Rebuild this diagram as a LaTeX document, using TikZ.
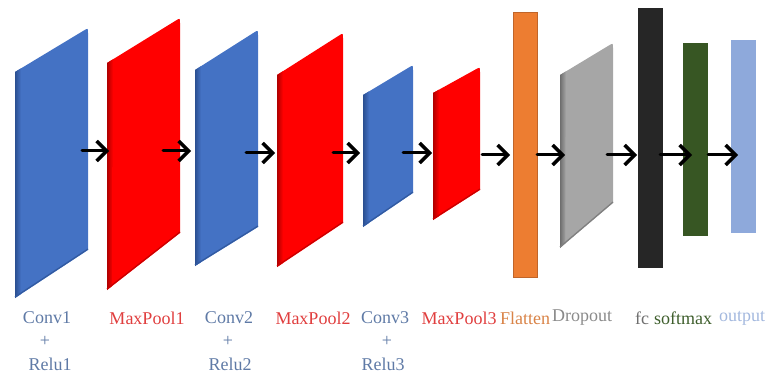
\documentclass[tikz,border=0pt]{standalone}
\usepackage{fontspec}
\setmainfont{Liberation Serif}
\usetikzlibrary{arrows.meta,calc}
\definecolor{convblue}{HTML}{4472C4}
\definecolor{convdark}{HTML}{2B4F91}
\definecolor{poolred}{HTML}{FF0000}
\definecolor{pooldark}{HTML}{B00000}
\definecolor{dropgray}{HTML}{A6A6A6}
\definecolor{dropdark}{HTML}{6E6E6E}
\definecolor{flatorange}{HTML}{ED7D31}
\definecolor{flatborder}{HTML}{C0652A}
\definecolor{fcblack}{HTML}{262626}
\definecolor{smgreen}{HTML}{375623}
\definecolor{outblue}{HTML}{8EA9DB}
\definecolor{convtxt}{HTML}{5F7AA6}
\definecolor{pooltxt}{HTML}{E03E3E}
\definecolor{flattxt}{HTML}{D98347}
\definecolor{droptxt}{HTML}{8A8A8A}
\definecolor{fctxt}{HTML}{6E6E6E}
\definecolor{smtxt}{HTML}{3E5E2C}
\definecolor{outtxt}{HTML}{A3B8DE}
% #1 xl, #2 y top-left, #3 y bottom-left, #4 xr, #5 y top-right, #6 y bottom-right, #7 face colour, #8 side colour
\newcommand\slabshape[8]{%
  \fill[#7] (#1,#2) -- ($(#4,#5)!5pt!(#1,#2)$) .. controls (#4,#5) .. ($(#4,#5)!5pt!(#4,#6)$) -- (#4,#6) -- (#1,#3) -- cycle;
  \shade[left color=#8, right color=#7] (#1,#2) -- ($(#1,#2)!7pt!(#4,#5)$) -- ($(#1,#3)!7pt!(#4,#6)$) -- (#1,#3) -- cycle;
  \draw[#8!70!#7, line width=1.2pt] ($(#1,#3)!1pt!(#1,#2)$) -- ($(#4,#6)!1pt!(#4,#5)$);
}
\begin{document}
\begin{tikzpicture}[x=1pt,y=-1pt,
  flow/.style={line width=3pt, line cap=round, -{Straight Barb[length=10pt,width=20pt,line width=3.4pt]}},
  lbl/.style={font=\fontsize{18}{21}\selectfont, inner sep=0pt, anchor=center}]
\useasboundingbox (0,0) rectangle (771,377);
% slabs
\slabshape{15}{72}{298}{88}{28}{250}{convblue}{convdark}
\slabshape{107}{63}{290}{180}{18}{233}{poolred}{pooldark}
\slabshape{195}{70}{266}{258}{30}{227}{convblue}{convdark}
\slabshape{277}{75}{267}{343}{33}{223}{poolred}{pooldark}
\slabshape{363}{95}{227}{413}{65}{193}{convblue}{convdark}
\slabshape{433}{93}{220}{480}{67}{190}{poolred}{pooldark}
\slabshape{560}{75}{248}{613}{43}{203}{dropgray}{dropdark}
% bars
\fill[flatorange, draw=flatborder, line width=0.8pt] (513,12) rectangle (537,277);
\fill[fcblack] (638,8) rectangle (663,268);
\fill[smgreen] (683,43) rectangle (708,236);
\fill[outblue] (731,40) rectangle (756,233);
% arrow end points
\coordinate (s1) at (82,151);  \coordinate (e1) at (109,151);
\coordinate (s2) at (163,151); \coordinate (e2) at (191,151);
\coordinate (s3) at (246,153); \coordinate (e3) at (275,153);
\coordinate (s4) at (333,153); \coordinate (e4) at (360,153);
\coordinate (s5) at (403,153); \coordinate (e5) at (432,153);
\coordinate (s6) at (482,155); \coordinate (e6) at (510,155);
\coordinate (s7) at (537,155); \coordinate (e7) at (565,155);
\coordinate (s8) at (607,155); \coordinate (e8) at (637,155);
\coordinate (s9) at (660,155); \coordinate (e9) at (692,155);
\coordinate (s10) at (708,155); \coordinate (e10) at (738,155);
\foreach \i in {1,...,10} { \draw[flow] (s\i) -- (e\i); }
% labels
\node[lbl, text=convtxt] (c1) at (47,318) {Conv1};
\node[lbl, text=convtxt] (p1) at (45,341) {+};
\node[lbl, text=convtxt] (r1) at (50,364) {Relu1};
\node[lbl, text=pooltxt] (m1) at (147,318) {MaxPool1};
\node[lbl, text=convtxt] (c2) at (229,318) {Conv2};
\node[lbl, text=convtxt] (p2) at (228,341) {+};
\node[lbl, text=convtxt] (r2) at (230,364) {Relu2};
\node[lbl, text=pooltxt] (m2) at (313,318) {MaxPool2};
\node[lbl, text=convtxt] (c3) at (385,318) {Conv3};
\node[lbl, text=convtxt] (p3) at (387,341) {+};
\node[lbl, text=convtxt] (r3) at (383,364) {Relu3};
\node[lbl, text=pooltxt] (m3) at (459,318) {MaxPool3};
\node[lbl, text=flattxt] (fl) at (525,318) {Flatten};
\node[lbl, text=droptxt] (dr) at (582,318) {Dropout};
\node[lbl, text=fctxt] (fc) at (642,318) {fc};
\node[lbl, text=smtxt] (sm) at (683,318) {softmax};
\node[lbl, text=outtxt] (ou) at (742,318) {output};
\end{tikzpicture}
\end{document}
